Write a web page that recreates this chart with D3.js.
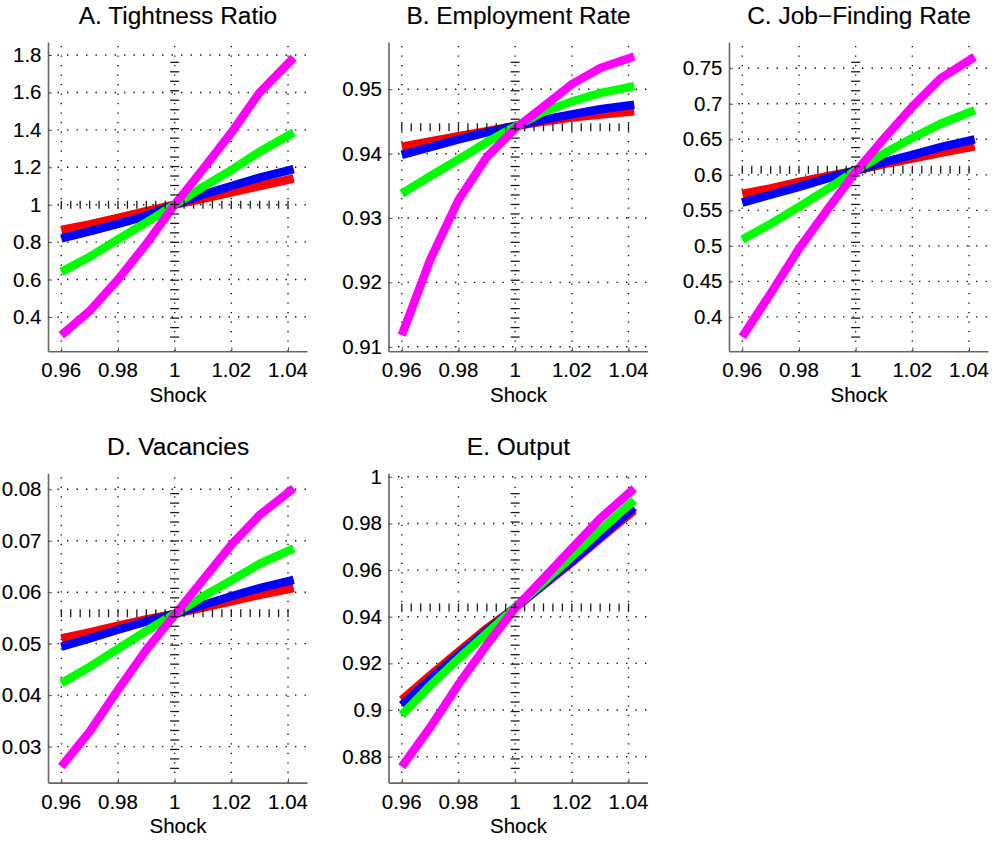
<!DOCTYPE html>
<html><head><meta charset="utf-8">
<script src="https://cdn.jsdelivr.net/npm/d3@7"></script>
<style>
body{margin:0;background:#fff}
svg{display:block}
text{font-family:"Liberation Sans",Arial,Helvetica,sans-serif;fill:#000;stroke:#000;stroke-width:0.12px}
</style>
</head><body>
<svg id="chart" width="992" height="842"></svg>
<script>
// ---------------- data ----------------
const shock = [0.96, 0.97, 0.98, 0.99, 1.00, 1.01, 1.02, 1.03, 1.042];
const xTicks = [0.96, 0.98, 1, 1.02, 1.04];
const seriesColors = ["#ff0000", "#0000ff", "#00ff00", "#ff00ff"];

const titles = ["A. Tightness Ratio", "B. Employment Rate", "C. Job\u2212Finding Rate", "D. Vacancies", "E. Output"];

// A. Tightness ratio
const tightRed     = [0.865, 0.895, 0.930, 0.965, 1.000, 1.032, 1.066, 1.100, 1.140];
const tightBlue    = [0.820, 0.857, 0.897, 0.940, 1.000, 1.055, 1.100, 1.145, 1.190];
const tightGreen   = [0.641, 0.721, 0.815, 0.905, 1.000, 1.095, 1.185, 1.283, 1.386];
const tightMagenta = [0.302, 0.432, 0.600, 0.790, 1.000, 1.190, 1.385, 1.600, 1.785];
const tightTicks = [0.4, 0.6, 0.8, 1, 1.2, 1.4, 1.6, 1.8];

// B. Employment rate
const empRed     = [0.9411, 0.9419, 0.9427, 0.9435, 0.9443, 0.9450, 0.9456, 0.9461, 0.9466];
const empBlue    = [0.9398, 0.9410, 0.9422, 0.9433, 0.9443, 0.9453, 0.9461, 0.9469, 0.9476];
const empGreen   = [0.9338, 0.9365, 0.9391, 0.9418, 0.9442, 0.9465, 0.9481, 0.9494, 0.9505];
const empMagenta = [0.9118, 0.9235, 0.9328, 0.9395, 0.9439, 0.9473, 0.9508, 0.9533, 0.9551];
const empTicks = [0.91, 0.92, 0.93, 0.94, 0.95];

// C. Job-finding rate
const jfRed     = [0.573, 0.581, 0.590, 0.598, 0.606, 0.615, 0.623, 0.631, 0.640];
const jfBlue    = [0.561, 0.572, 0.583, 0.595, 0.606, 0.618, 0.628, 0.639, 0.650];
const jfGreen   = [0.509, 0.531, 0.555, 0.580, 0.606, 0.630, 0.652, 0.672, 0.691];
const jfMagenta = [0.372, 0.433, 0.496, 0.551, 0.604, 0.651, 0.696, 0.736, 0.766];
const jfTicks = [0.4, 0.45, 0.5, 0.55, 0.6, 0.65, 0.7, 0.75];

// D. Vacancies
const vacRed     = [0.0510, 0.0522, 0.0535, 0.0547, 0.0558, 0.0570, 0.0582, 0.0595, 0.0608];
const vacBlue    = [0.0494, 0.0510, 0.0527, 0.0543, 0.0558, 0.0575, 0.0592, 0.0608, 0.0624];
const vacGreen   = [0.0423, 0.0455, 0.0490, 0.0525, 0.0558, 0.0592, 0.0623, 0.0655, 0.0685];
const vacMagenta = [0.0261, 0.0329, 0.0410, 0.0488, 0.0556, 0.0624, 0.0692, 0.0750, 0.0802];
const vacTicks = [0.03, 0.04, 0.05, 0.06, 0.07, 0.08];

// E. Output
const outRed     = [0.9043, 0.9148, 0.9250, 0.9350, 0.9439, 0.9535, 0.9633, 0.9735, 0.9857];
const outBlue    = [0.9021, 0.9130, 0.9236, 0.9340, 0.9439, 0.9538, 0.9638, 0.9742, 0.9869];
const outGreen   = [0.8979, 0.9105, 0.9220, 0.9330, 0.9439, 0.9548, 0.9658, 0.9770, 0.9900];
const outMagenta = [0.8757, 0.8925, 0.9110, 0.9280, 0.9436, 0.9564, 0.9693, 0.9821, 0.9950];
const outTicks = [0.88, 0.9, 0.92, 0.94, 0.96, 0.98, 1];

// steady-state values (horizontal marker line)
const steadyStates = [1.0, 0.9441, 0.607, 0.0559, 0.9440];
const yDomains = [[0.2165, 1.8696], [0.9093, 0.95735], [0.3516, 0.787], [0.0230, 0.0831], [0.8689, 1.0015]];

// ---------------- layout ----------------
const xDomain = [0.95531, 1.0467];
const panelW = 259, panelH = 309.3;
const lefts = [48, 388.5, 729, 48, 388.5];
const tops  = [42, 42, 42, 473.3, 473.3];

const panels = [
  {series: [tightRed, tightBlue, tightGreen, tightMagenta], ticks: tightTicks},
  {series: [empRed, empBlue, empGreen, empMagenta], ticks: empTicks},
  {series: [jfRed, jfBlue, jfGreen, jfMagenta], ticks: jfTicks},
  {series: [vacRed, vacBlue, vacGreen, vacMagenta], ticks: vacTicks},
  {series: [outRed, outBlue, outGreen, outMagenta], ticks: outTicks}
];

const svg = d3.select("#chart");
const SX = 1.05;  // horizontal stretch of the glyphs
const tickFont = 19.5, titleFont = 23.3;

function label(g, x, y, txt, size, anchor) {
  g.append("g").attr("transform", `translate(${x},${y})`)
    .append("text")
    .attr("transform", `scale(${SX},1)`)
    .attr("text-anchor", anchor)
    .style("font-size", size + "px")
    .text(txt);
}

panels.forEach((p, i) => {
  const g = svg.append("g").attr("transform", `translate(${lefts[i]},${tops[i]})`);
  const x = d3.scaleLinear().domain(xDomain).range([0, panelW]);
  const y = d3.scaleLinear().domain(yDomains[i]).range([panelH, 0]);

  // grid (dotted)
  const grid = g.append("g").attr("stroke", "#111").attr("stroke-width", 1.4)
    .attr("stroke-dasharray", "1.4,8.1");
  grid.selectAll(".vg").data(xTicks).join("line")
    .attr("x1", d => x(d)).attr("x2", d => x(d))
    .attr("y1", panelH).attr("y2", 0);
  grid.selectAll(".hg").data(p.ticks).join("line")
    .attr("x1", 0).attr("x2", panelW)
    .attr("y1", d => y(d)).attr("y2", d => y(d));

  // series lines
  const line = d3.line().x((d, k) => x(shock[k])).y(d => y(d));
  g.selectAll(".series").data(p.series).join("path")
    .attr("fill", "none")
    .attr("stroke", (d, k) => seriesColors[k])
    .attr("stroke-width", 8.5)
    .attr("stroke-linejoin", "miter")
    .attr("d", line);

  // crosshair markers
  const ss = steadyStates[i];
  const hx = d3.range(25).map(k => 0.96 + k * 0.08 / 24);
  g.append("g").selectAll("line").data(hx).join("line")
    .attr("x1", d => x(d)).attr("x2", d => x(d))
    .attr("y1", y(ss) - 4).attr("y2", y(ss) + 4)
    .attr("stroke", "#1a1a1a").attr("stroke-width", 1.3);
  const dom = yDomains[i], span = dom[1] - dom[0];
  const vTop = dom[1] - 0.0657 * span, vBot = dom[0] + 0.046 * span;
  const vy = d3.range(30).map(k => vBot + k * (vTop - vBot) / 29);
  g.append("g").selectAll("line").data(vy).join("line")
    .attr("x1", x(1) - 4.5).attr("x2", x(1) + 4.5)
    .attr("y1", d => y(d)).attr("y2", d => y(d))
    .attr("stroke", "#1a1a1a").attr("stroke-width", 1.3);

  // axes
  const ax = g.append("g").attr("transform", `translate(0,${panelH})`)
    .call(d3.axisBottom(x).tickValues(xTicks).tickSize(-4).tickSizeOuter(0).tickFormat(""));
  const ay = g.append("g")
    .call(d3.axisLeft(y).tickValues(p.ticks).tickSize(-4).tickSizeOuter(0).tickFormat(""));
  [ax, ay].forEach(a => {
    a.select(".domain").attr("stroke", "#666").attr("stroke-width", 1.6);
    a.selectAll(".tick line").attr("stroke", "#555").attr("stroke-width", 1);
  });

  // tick labels
  xTicks.forEach(t => label(g, x(t), panelH + 26, String(t), tickFont, "middle"));
  p.ticks.forEach(t => label(g, -6.5, y(t) + 7, String(t), tickFont, "end"));

  // axis label and title
  label(g, panelW / 2 + 0.5, panelH + 50.8, "Shock", tickFont, "middle");
  label(g, panelW / 2 + 0.5, -18.3, titles[i], titleFont, "middle");
});
</script>
</body></html>
